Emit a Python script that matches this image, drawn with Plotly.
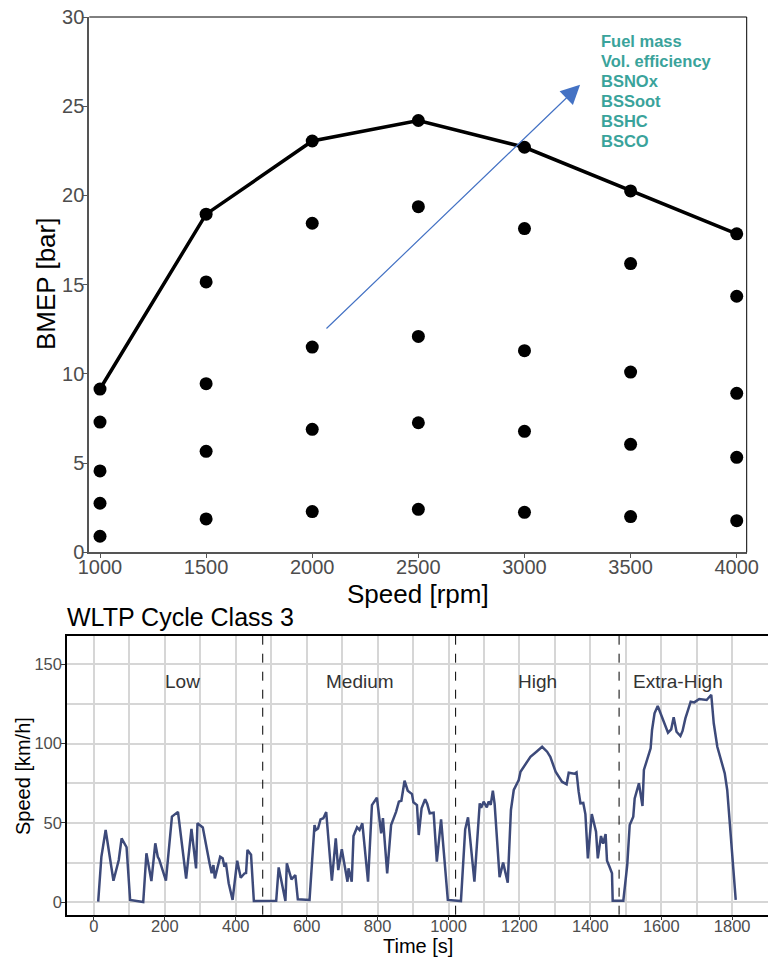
import plotly.graph_objects as go

# ---------------- Engine map data ----------------
speed_rpm = [1000, 1500, 2000, 2500, 3000, 3500, 4000]
bmep_full_load = [9.15, 18.95, 23.05, 24.2, 22.7, 20.25, 17.85]

op_speed = [1000, 1000, 1000, 1000,
            1500, 1500, 1500, 1500,
            2000, 2000, 2000, 2000,
            2500, 2500, 2500, 2500,
            3000, 3000, 3000, 3000,
            3500, 3500, 3500, 3500,
            4000, 4000, 4000, 4000]
op_bmep = [7.3, 4.56, 2.75, 0.9,
           15.15, 9.45, 5.66, 1.87,
           18.44, 11.5, 6.89, 2.28,
           19.37, 12.1, 7.26, 2.41,
           18.14, 11.3, 6.78, 2.24,
           16.18, 10.1, 6.05, 2.0,
           14.35, 8.91, 5.32, 1.77]

outputs = ["Fuel mass", "Vol. efficiency", "BSNOx", "BSSoot", "BSHC", "BSCO"]
x_ticks_top = [1000, 1500, 2000, 2500, 3000, 3500, 4000]
y_ticks_top = [0, 5, 10, 15, 20, 25, 30]

# ---------------- WLTP cycle data ----------------
time_s = [12, 21, 33, 55, 70, 78, 92, 102, 139, 148,
          162, 173, 180, 184, 203, 220, 237, 260, 275, 288,
          292, 307, 326, 332, 337, 341, 356, 363, 368, 372,
          380, 391, 404, 414, 425, 429, 433, 443, 451, 514,
          521, 540, 544, 557, 568, 575, 608, 622, 626, 632,
          639, 647, 655, 671, 682, 689, 699, 707, 715, 718,
          727, 732, 742, 749, 757, 773, 784, 798, 810, 815,
          827, 838, 852, 860, 867, 876, 885, 897, 901, 911,
          916, 924, 934, 940, 947, 958, 967, 979, 998, 1035,
          1047, 1055, 1073, 1088, 1092, 1099, 1108, 1113, 1119, 1125,
          1130, 1144, 1154, 1167, 1176, 1184, 1198, 1203, 1221, 1231,
          1248, 1264, 1278, 1287, 1302, 1320, 1333, 1339, 1355, 1361,
          1367, 1372, 1380, 1386, 1393, 1404, 1416, 1421, 1430, 1436,
          1443, 1447, 1454, 1461, 1463, 1493, 1504, 1511, 1521, 1525,
          1537, 1547, 1551, 1558, 1570, 1574, 1581, 1590, 1602, 1610,
          1619, 1628, 1635, 1643, 1654, 1660, 1668, 1683, 1693, 1707,
          1728, 1741, 1748, 1758, 1779, 1786, 1810]
speed_kmh = [0.4, 28.7, 45.6, 13.6, 26.7, 40.3, 34.7, 1.5, 0.2, 30.9,
             13.4, 37.2, 28.7, 27.0, 13.6, 54.0, 57.0, 15.0, 46.2, 21.4,
             49.8, 47.2, 24.6, 18.3, 23.5, 15.1, 28.7, 27.7, 22.4, 25.0,
             12.0, 1.5, 26.2, 15.5, 18.3, 18.5, 33.0, 30.0, 0.8, 1.0,
             22.0, 0.8, 24.6, 14.5, 17.2, 1.9, 1.5, 48.7, 45.6, 46.5,
             52.3, 53.0, 56.9, 13.6, 40.3, 20.3, 33.4, 22.0, 13.0, 21.4,
             13.0, 41.8, 47.3, 45.6, 49.8, 13.0, 61.3, 65.9, 43.5, 53.0,
             18.3, 48.7, 57.0, 63.4, 64.0, 76.6, 70.3, 68.2, 63.0, 61.3,
             42.4, 59.2, 64.9, 62.0, 56.1, 56.5, 25.6, 52.3, 1.5, 0.8,
             46.0, 53.6, 13.0, 62.4, 59.5, 63.4, 59.9, 63.5, 61.5, 70.3,
             62.0, 15.8, 25.0, 12.4, 58.2, 70.8, 77.0, 82.3, 88.6, 91.7,
             94.9, 98.0, 94.9, 91.7, 82.3, 76.0, 74.4, 81.7, 81.0, 81.9,
             69.7, 62.4, 62.6, 55.6, 27.7, 55.6, 44.5, 27.7, 41.8, 37.0,
             43.0, 26.2, 22.4, 18.3, 1.0, 1.0, 23.5, 48.7, 54.0, 65.5,
             75.0, 60.7, 83.4, 88.6, 97.0, 108.6, 119.1, 123.7, 117.0, 113.0,
             106.9, 109.0, 116.6, 107.5, 104.8, 108.0, 115.9, 126.4, 126.0, 128.1,
             127.5, 130.8, 112.8, 98.0, 81.3, 70.8, 1.5]

phase_names = ["Low", "Medium", "High", "Extra-High"]
phase_label_t = [250, 749, 1252, 1647]
phase_bounds = [476, 1020, 1481]
x_ticks_bot = [0, 200, 400, 600, 800, 1000, 1200, 1400, 1600, 1800]
y_ticks_bot = [0, 50, 100, 150]

FONT = "Arial, Liberation Sans, sans-serif"
TEAL = "#3aa39b"
NAVY = "#3d4a7a"
GRAY = "#4d4d4d"
W, H = 768, 960

fig = go.Figure()

# Top panel
fig.add_trace(go.Scatter(x=op_speed, y=op_bmep, mode="markers",
                         marker=dict(color="black", size=13),
                         xaxis="x", yaxis="y", showlegend=False))
fig.add_trace(go.Scatter(x=speed_rpm, y=bmep_full_load, mode="lines+markers",
                         line=dict(color="black", width=3.5),
                         marker=dict(color="black", size=13),
                         xaxis="x", yaxis="y", showlegend=False))

# Bottom panel
fig.add_trace(go.Scatter(x=time_s, y=speed_kmh, mode="lines",
                         line=dict(color=NAVY, width=2.5),
                         xaxis="x2", yaxis="y2", showlegend=False))

annotations = []
# Arrow
annotations.append(dict(x=3262, y=26.2, ax=2060, ay=12.46,
                        xref="x", yref="y", axref="x", ayref="y",
                        showarrow=True, arrowhead=2, arrowsize=3.2,
                        arrowwidth=1.2, arrowcolor="#4472c4", text=""))
# Output list
for i, name in enumerate(outputs):
    annotations.append(dict(x=3352, y=28.66 - i * 1.121, xref="x", yref="y",
                            text="<b>%s</b>" % name, showarrow=False,
                            xanchor="left", yanchor="middle",
                            font=dict(family=FONT, size=16.5, color=TEAL)))
# Phase labels
for name, t in zip(phase_names, phase_label_t):
    annotations.append(dict(x=t, y=139.4, xref="x2", yref="y2", text=name,
                            showarrow=False, xanchor="center", yanchor="middle",
                            font=dict(family=FONT, size=19, color="#333333")))


def paper_text(text, px, py, size, angle=0, anchor="center"):
    return dict(x=px / W, y=1 - py / H, xref="paper", yref="paper", text=text,
                showarrow=False, xanchor=anchor, yanchor="middle", textangle=angle,
                borderpad=0,
                font=dict(family=FONT, size=size, color="black"))


annotations.append(paper_text("WLTP Cycle Class 3", 66, 617, 25, anchor="left"))
annotations.append(paper_text("Speed [rpm]", 418, 594, 26))
annotations.append(paper_text("BMEP [bar]", 46, 284, 26, angle=-90))
annotations.append(paper_text("Time [s]", 418, 946, 20))
annotations.append(paper_text("Speed [km/h]", 23, 776, 20, angle=-90))

shapes = []
for b in phase_bounds:
    shapes.append(dict(type="line", xref="x2", yref="y2 domain", x0=b, x1=b,
                       y0=0, y1=1, line=dict(color="black", width=1, dash="dash")))
# top/right border on upper panel
shapes.append(dict(type="line", xref="x domain", yref="y domain", x0=0, x1=1, y0=1, y1=1,
                   line=dict(color="black", width=1)))
shapes.append(dict(type="line", xref="x domain", yref="y domain", x0=1, x1=1, y0=0, y1=1,
                   line=dict(color="black", width=1)))

fig.update_layout(
    width=W, height=H,
    margin=dict(l=0, r=0, t=0, b=0),
    paper_bgcolor="white", plot_bgcolor="white",
    font=dict(family=FONT),
    annotations=annotations, shapes=shapes,
    xaxis=dict(domain=[89.3 / W, 746.7 / W], anchor="y", automargin=False,
               range=[949.6, 4047], tickvals=x_ticks_top,
               showgrid=False, zeroline=False,
               showline=True, linecolor="#555555", linewidth=2,
               ticks="outside", ticklen=4, tickcolor="#555555",
               ticklabelstandoff=-8,
               tickfont=dict(size=20, color=GRAY)),
    yaxis=dict(domain=[1 - 552.3 / H, 1 - 17 / H], anchor="x", automargin=False,
               range=[0, 30], tickvals=y_ticks_top,
               showgrid=False, zeroline=False,
               showline=True, linecolor="#555555", linewidth=2,
               ticks="outside", ticklen=4, tickcolor="#555555",
               ticklabelstandoff=-5,
               tickfont=dict(size=20, color=GRAY)),
    xaxis2=dict(domain=[67 / W, 1.0], anchor="y2", automargin=False,
                range=[-76, 1901], tickvals=x_ticks_bot,
                showgrid=True, gridcolor="#d6d6d6", gridwidth=1.5,
                minor=dict(dtick=100, tick0=0, showgrid=True,
                           gridcolor="#d6d6d6", gridwidth=1.5),
                zeroline=False, showline=True, linecolor="black", linewidth=1.5,
                mirror=True,
                ticks="outside", ticklen=4, tickcolor="#333333",
                ticklabelstandoff=-8,
                tickfont=dict(size=16.5, color=GRAY)),
    yaxis2=dict(domain=[1 - 914.7 / H, 1 - 635.7 / H], anchor="x2", automargin=False,
                range=[-7.8, 168], tickvals=y_ticks_bot,
                showgrid=True, gridcolor="#d6d6d6", gridwidth=1.5,
                minor=dict(dtick=25, tick0=0, showgrid=True,
                           gridcolor="#d6d6d6", gridwidth=1.5),
                zeroline=False, showline=True, linecolor="black", linewidth=1.5,
                ticks="outside", ticklen=4, tickcolor="#333333",
                ticklabelstandoff=-4,
                tickfont=dict(size=16.5, color=GRAY)),
)

fig.write_html("out.html")
